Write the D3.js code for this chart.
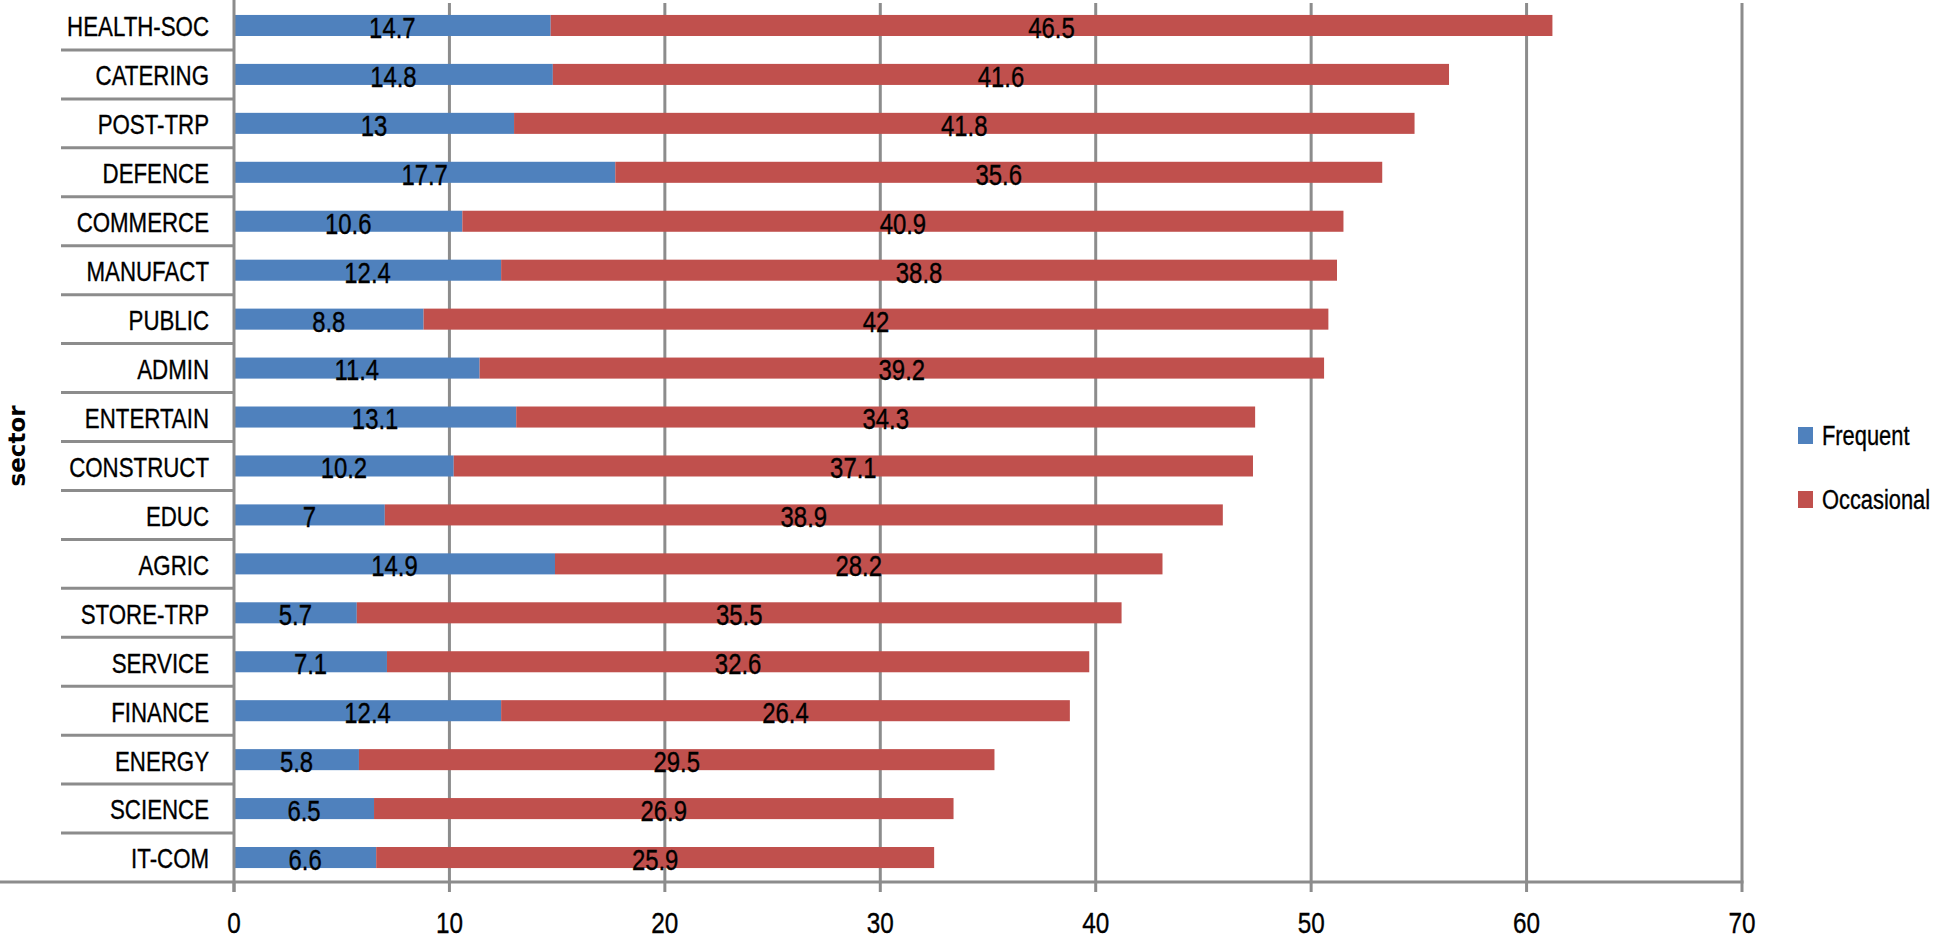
<!DOCTYPE html>
<html>
<head>
<meta charset="utf-8">
<script src="https://cdn.jsdelivr.net/npm/d3@7"></script>
<style>
  html, body { margin: 0; padding: 0; background: #fff; }
  svg { display: block; }
  text { font-family: "Liberation Sans", Arial, sans-serif; fill: #000; stroke: #000; stroke-width: 0.35px; }
</style>
</head>
<body>
<svg id="chart" width="1945" height="940"></svg>
<script>
const sectors = ["HEALTH-SOC","CATERING","POST-TRP","DEFENCE","COMMERCE","MANUFACT","PUBLIC","ADMIN","ENTERTAIN","CONSTRUCT","EDUC","AGRIC","STORE-TRP","SERVICE","FINANCE","ENERGY","SCIENCE","IT-COM"];
const frequent = [14.7,14.8,13,17.7,10.6,12.4,8.8,11.4,13.1,10.2,7,14.9,5.7,7.1,12.4,5.8,6.5,6.6];
const occasional = [46.5,41.6,41.8,35.6,40.9,38.8,42,39.2,34.3,37.1,38.9,28.2,35.5,32.6,26.4,29.5,26.9,25.9];
const xTicks = [0,10,20,30,40,50,60,70];
const seriesNames = ["Frequent","Occasional"];
const colors = ["#4F81BD","#C0504D"];

(function () {
const svg = d3.select("#chart");
const pL = 234, pR = 1742, pT = 1, pB = 882;
const grid = "#8C8C8C";
const NARROW = 0.81;
const pos = (px, py) => `translate(${px},${py}) scale(${NARROW},1)`;

const x = d3.scaleLinear().domain([0,70]).range([pL,pR]);
const y = d3.scaleBand().domain(sectors).range([pT,pB]).paddingInner(0.57).paddingOuter(0.285);

// gridlines
svg.append("g").selectAll("line").data(xTicks.slice(1)).join("line")
  .attr("x1", d => x(d)).attr("x2", d => x(d))
  .attr("y1", 3).attr("y2", pB)
  .attr("stroke", grid).attr("stroke-width", 3);

// bars
const rows = sectors.map((s,i) => ({s, f: frequent[i], o: occasional[i]}));
const g = svg.append("g");
g.selectAll("rect.f").data(rows).join("rect").attr("class","f")
  .attr("x", x(0)).attr("y", d => y(d.s))
  .attr("width", d => x(d.f) - x(0)).attr("height", y.bandwidth())
  .attr("fill", colors[0]);
g.selectAll("rect.o").data(rows).join("rect").attr("class","o")
  .attr("x", d => x(d.f)).attr("y", d => y(d.s))
  .attr("width", d => x(d.f + d.o) - x(d.f)).attr("height", y.bandwidth())
  .attr("fill", colors[1]);

// data labels
g.selectAll("text.lf").data(rows).join("text").attr("class","lf")
  .attr("transform", d => pos((x(0) + x(d.f)) / 2, y(d.s) + y.bandwidth()/2 + 2.5))
  .attr("text-anchor","middle").attr("dominant-baseline","central")
  .attr("font-size", 29.5).text(d => d.f);
g.selectAll("text.lo").data(rows).join("text").attr("class","lo")
  .attr("transform", d => pos((x(d.f) + x(d.f + d.o)) / 2, y(d.s) + y.bandwidth()/2 + 2.5))
  .attr("text-anchor","middle").attr("dominant-baseline","central")
  .attr("font-size", 29.5).text(d => d.o);

// y axis line
svg.append("line").attr("x1", pL).attr("x2", pL).attr("y1", 0).attr("y2", pB + 10)
  .attr("stroke", grid).attr("stroke-width", 3);

// category separators
const step = y.step();
svg.append("g").selectAll("line").data(sectors.slice(1)).join("line")
  .attr("x1", 61).attr("x2", pL)
  .attr("y1", d => y(d) - y.paddingInner()*step/2)
  .attr("y2", d => y(d) - y.paddingInner()*step/2)
  .attr("stroke", grid).attr("stroke-width", 3);

// bottom axis
svg.append("line").attr("x1", 0).attr("x2", pR + 1.5).attr("y1", pB).attr("y2", pB)
  .attr("stroke", grid).attr("stroke-width", 3);
svg.append("g").selectAll("line").data(xTicks).join("line")
  .attr("x1", d => x(d)).attr("x2", d => x(d)).attr("y1", pB).attr("y2", pB + 10)
  .attr("stroke", grid).attr("stroke-width", 3);
svg.append("g").selectAll("text").data(xTicks).join("text")
  .attr("transform", d => pos(x(d), 923))
  .attr("text-anchor","middle").attr("dominant-baseline","central")
  .attr("font-size", 30).text(d => d);

// category labels
svg.append("g").selectAll("text").data(sectors).join("text")
  .attr("transform", d => pos(209, y(d) + y.bandwidth()/2 + 1))
  .attr("text-anchor","end").attr("dominant-baseline","central")
  .attr("font-size", 27.5).text(d => d);

// axis title
svg.append("text").attr("transform", "translate(17,446) rotate(-90)")
  .attr("text-anchor","middle").attr("dominant-baseline","central")
  .style("font-family", "'DejaVu Sans', sans-serif").style("stroke-width", "0px")
  .attr("font-weight","bold").attr("font-size", 23).text("sector");

// legend
const leg = svg.append("g").selectAll("g").data(seriesNames).join("g")
  .attr("transform", (d,i) => `translate(1798,${435 + i*64})`);
leg.append("rect").attr("x", 0).attr("y", -8).attr("width", 15).attr("height", 17)
  .attr("fill", (d,i) => colors[i]);
leg.append("text").attr("transform", pos(24, 1)).attr("dominant-baseline","central")
  .attr("font-size", 27).text(d => d);
})();
</script>
</body>
</html>
